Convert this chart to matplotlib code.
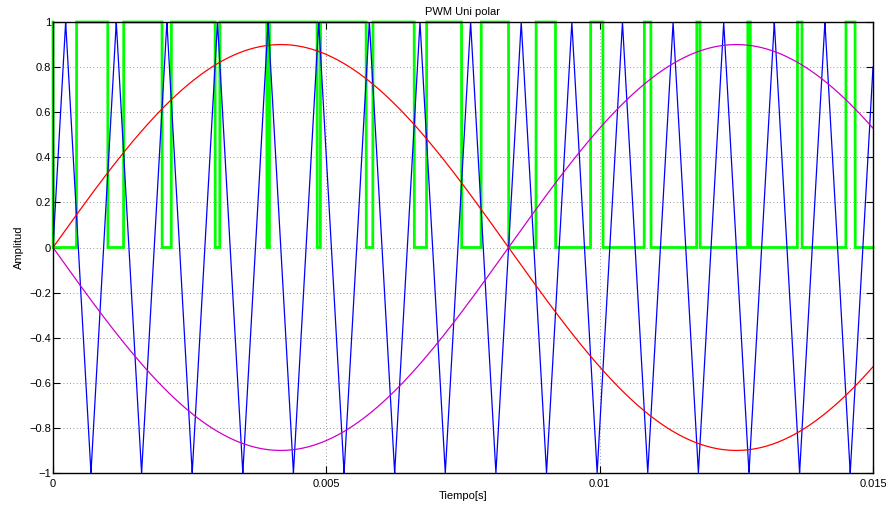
import numpy as np
import matplotlib
matplotlib.use("Agg")
import matplotlib.pyplot as plt

# Signal parameters
t_start, t_end = 0.0, 0.015
mod_amplitude = 0.9        # sine amplitude
f_ref = 60.0               # reference sine frequency [Hz]
f_carrier = 1080.0         # triangular carrier frequency [Hz]
n_samples = 15001

x_ticks = [0, 0.005, 0.01, 0.015]
x_tick_labels = ["0", "0.005", "0.01", "0.015"]
y_ticks = [-1, -0.8, -0.6, -0.4, -0.2, 0, 0.2, 0.4, 0.6, 0.8, 1]
y_tick_labels = ["\u22121", "\u22120.8", "\u22120.6", "\u22120.4", "\u22120.2", "0",
                 "0.2", "0.4", "0.6", "0.8", "1"]

t = np.linspace(t_start, t_end, n_samples)
ref_pos = mod_amplitude * np.sin(2 * np.pi * f_ref * t)
ref_neg = -ref_pos
carrier = (2 / np.pi) * np.arcsin(np.sin(2 * np.pi * f_carrier * t))
pwm = (ref_pos >= carrier - 1e-12).astype(float)

plt.rcParams['font.family'] = ['Liberation Sans', 'DejaVu Sans']
fig = plt.figure(figsize=(8.87, 5.08), dpi=100)
ax = fig.add_axes([53 / 887, 35 / 508, 820 / 887, 451 / 508])

ax.plot(t, pwm, color=(0, 1, 0), lw=2.0, zorder=2, clip_on=False, solid_joinstyle='miter')
ax.plot(t, carrier, color=(0, 0, 1), lw=0.9, zorder=3)
ax.plot(t, ref_pos, color=(1, 0, 0), lw=0.9, zorder=4)
ax.plot(t, ref_neg, color=(0.8, 0, 0.8), lw=0.9, zorder=4)

ax.set_xlim(t_start, t_end)
ax.set_ylim(-1, 1)
ax.set_xticks(x_ticks)
ax.set_xticklabels(x_tick_labels)
ax.set_yticks(y_ticks)
ax.set_yticklabels(y_tick_labels)
ax.tick_params(direction='in', length=5, width=0.8, top=True, right=True,
               labelsize=8)
ax.tick_params(axis='x', pad=4)
ax.tick_params(axis='y', pad=1.5)
for s in ax.spines.values():
    s.set_linewidth(1.0)
    s.set_color('black')
    s.set_zorder(5)
ax.grid(True, linestyle=(0, (1, 3)), color='#7a7a7a', lw=0.6)
ax.set_axisbelow(True)

ax.set_title("PWM Uni polar", fontsize=8, pad=5)
ax.set_xlabel("Tiempo[s]", fontsize=8, labelpad=2)
ax.set_ylabel("Amplitud", fontsize=8, labelpad=3.5)

fig.savefig("out.png", dpi=100)
